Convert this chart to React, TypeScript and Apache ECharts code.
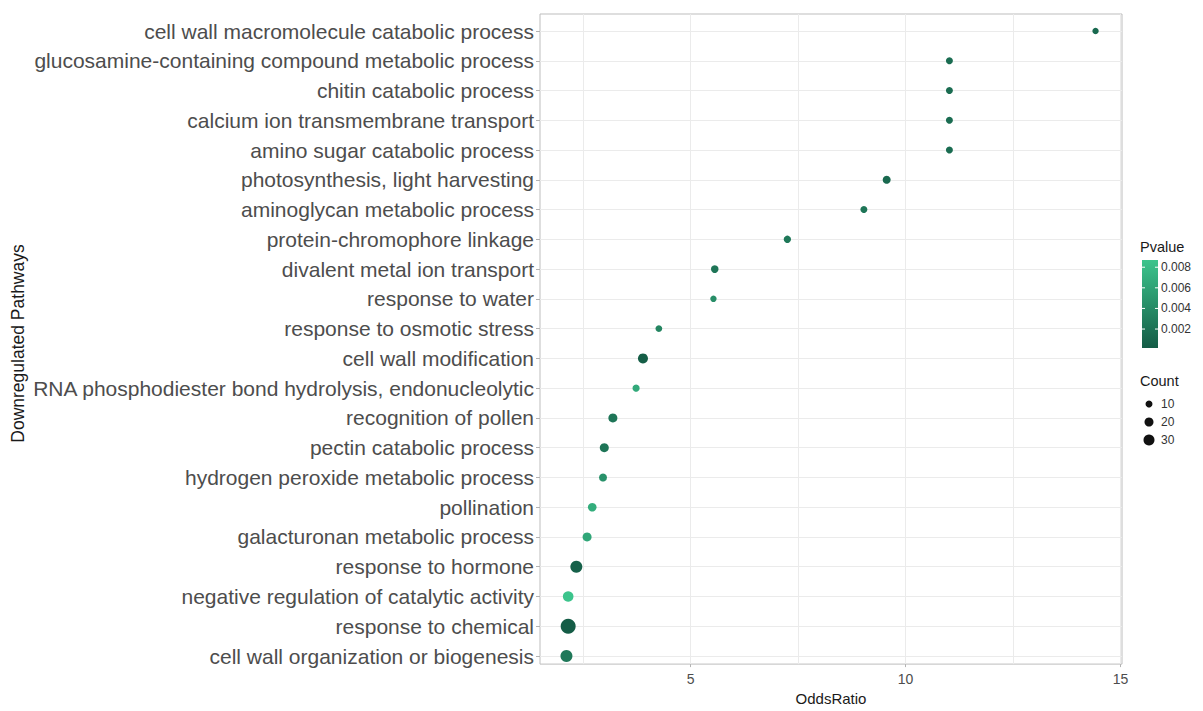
import React, { useEffect, useRef } from "react";
import * as echarts from "echarts";

// ---- data (top row first) ----
const pathways = [
  "cell wall macromolecule catabolic process",
  "glucosamine-containing compound metabolic process",
  "chitin catabolic process",
  "calcium ion transmembrane transport",
  "amino sugar catabolic process",
  "photosynthesis, light harvesting",
  "aminoglycan metabolic process",
  "protein-chromophore linkage",
  "divalent metal ion transport",
  "response to water",
  "response to osmotic stress",
  "cell wall modification",
  "RNA phosphodiester bond hydrolysis, endonucleolytic",
  "recognition of pollen",
  "pectin catabolic process",
  "hydrogen peroxide metabolic process",
  "pollination",
  "galacturonan metabolic process",
  "response to hormone",
  "negative regulation of catalytic activity",
  "response to chemical",
  "cell wall organization or biogenesis",
];
const oddsRatio = [
  14.42, 11.02, 11.02, 11.02, 11.02, 9.56, 9.03, 7.25, 5.56, 5.53, 4.26,
  3.89, 3.73, 3.19, 2.99, 2.96, 2.71, 2.59, 2.34, 2.15, 2.15, 2.11,
];
const pValues = [
  0.0012, 0.0015, 0.0015, 0.0015, 0.0015, 0.0012, 0.0022, 0.0025, 0.0022,
  0.0042, 0.0035, 0.0003, 0.0065, 0.0022, 0.0022, 0.0045, 0.0068, 0.0062,
  0.0006, 0.0087, 0.00016, 0.0025,
];
const counts = [
  7, 10, 10, 10, 10, 15, 10, 12, 13, 7, 9, 25, 11, 20, 20, 15, 18, 20, 35,
  28, 50, 35,
];
const xTicks = [5, 10, 15];
const xGridLines = [2.5, 5, 7.5, 10, 12.5, 15];
const pBreaks = [0.002, 0.004, 0.006, 0.008];
const countBreaks = [10, 20, 30];

const FONT = "'Liberation Sans', Arial, Helvetica, sans-serif";
const LOW = "#145c46";
const HIGH = "#3cc48c";
const sizeOf = (c: number) => 5 + 0.2 * c;

export default function App() {
  const ref = useRef<HTMLDivElement>(null);
  useEffect(() => {
    if (!ref.current) return;
    const chart = echarts.init(ref.current, null, { renderer: "svg" });

    const xLo = Math.min(...oddsRatio);
    const xHi = Math.max(...oddsRatio);
    const xMin = xLo - 0.05 * (xHi - xLo);
    const xMax = xHi + 0.05 * (xHi - xLo);
    const pMin = Math.min(...pValues);
    const pMax = Math.max(...pValues);

    const barX = 1142, barTop = 260, barBottom = 348, barW = 16;
    const yOfP = (p: number) =>
      barBottom - ((p - pMin) / (pMax - pMin)) * (barBottom - barTop);

    const graphic: any[] = [
      {
        type: "text",
        left: 1140,
        top: 239,
        style: { text: "Pvalue", fontSize: 14.5, fontFamily: FONT, fill: "#1a1a1a" },
      },
      {
        type: "rect",
        shape: { x: barX, y: barTop, width: barW, height: barBottom - barTop },
        style: {
          fill: new echarts.graphic.LinearGradient(0, 1, 0, 0, [
            { offset: 0, color: LOW },
            { offset: 1, color: HIGH },
          ]),
        },
      },
      {
        type: "text",
        left: 1140,
        top: 373,
        style: { text: "Count", fontSize: 14.5, fontFamily: FONT, fill: "#1a1a1a" },
      },
    ];
    pBreaks.forEach((b) => {
      const y = yOfP(b);
      graphic.push(
        { type: "line", shape: { x1: barX, y1: y, x2: barX + 3, y2: y }, style: { stroke: "#ffffff", lineWidth: 1 } },
        { type: "line", shape: { x1: barX + barW - 3, y1: y, x2: barX + barW, y2: y }, style: { stroke: "#ffffff", lineWidth: 1 } },
        {
          type: "text",
          x: 1161,
          y,
          style: { text: b.toFixed(3), fontSize: 12, fontFamily: FONT, fill: "#333333", verticalAlign: "middle" },
        }
      );
    });
    countBreaks.forEach((c, i) => {
      const cy = 404 + i * 18;
      graphic.push(
        { type: "circle", shape: { cx: 1149, cy, r: sizeOf(c) / 2 }, style: { fill: "#111111" } },
        {
          type: "text",
          x: 1161,
          y: cy,
          style: { text: String(c), fontSize: 12, fontFamily: FONT, fill: "#333333", verticalAlign: "middle" },
        }
      );
    });

    chart.setOption({
      animation: false,
      backgroundColor: "#ffffff",
      textStyle: { fontFamily: FONT },
      grid: [
        { left: 540, right: 81, top: 14, bottom: 34, show: true, borderColor: "#bdbdbd", borderWidth: 1, backgroundColor: "transparent" },
        { left: 540, right: 81, top: 31, bottom: 55 },
      ],
      xAxis: [
        {
          gridIndex: 0,
          type: "value",
          min: xMin,
          max: xMax,
          axisLine: { show: false },
          axisTick: { show: false, customValues: xGridLines },
          axisLabel: { show: false, customValues: xGridLines },
          splitLine: { show: true, lineStyle: { color: "#ebebeb", width: 1 } },
        },
        {
          gridIndex: 0,
          type: "value",
          position: "bottom",
          min: xMin,
          max: xMax,
          axisLine: { show: false },
          axisTick: { show: true, length: 3, customValues: xTicks, lineStyle: { color: "#b3b3b3" } },
          axisLabel: { customValues: xTicks, margin: 8, fontSize: 14, color: "#4d4d4d", fontFamily: FONT },
          splitLine: { show: false },
          name: "OddsRatio",
          nameLocation: "middle",
          nameGap: 22,
          nameTextStyle: { fontSize: 15, color: "#1a1a1a", fontFamily: FONT },
        },
        { gridIndex: 1, type: "value", min: xMin, max: xMax, show: false, splitLine: { show: false } },
      ],
      yAxis: [
        { gridIndex: 0, type: "value", min: 0, max: 1, show: false, splitLine: { show: false } },
        {
          gridIndex: 1,
          type: "category",
          data: pathways,
          inverse: true,
          boundaryGap: false,
          axisLine: { show: false },
          axisTick: { show: true, length: 4, lineStyle: { color: "#b3b3b3" } },
          axisLabel: { fontSize: 21, color: "#4d4d4d", margin: 6, fontFamily: FONT },
          splitLine: { show: true, lineStyle: { color: "#ebebeb", width: 1 } },
          name: "Downregulated Pathways",
          nameLocation: "middle",
          nameRotate: 90,
          nameGap: 513,
          nameTextStyle: { fontSize: 17.5, color: "#1a1a1a", fontFamily: FONT },
        },
      ],
      visualMap: {
        show: false,
        type: "continuous",
        dimension: 2,
        seriesIndex: 0,
        min: pMin,
        max: pMax,
        inRange: { color: [LOW, HIGH] },
      },
      series: [
        {
          type: "scatter",
          xAxisIndex: 2,
          yAxisIndex: 1,
          data: pathways.map((name, i) => [oddsRatio[i], name, pValues[i], counts[i]]),
          symbolSize: (v: any) => sizeOf(v[3]),
          itemStyle: { opacity: 1 },
        },
      ],
      graphic,
    });
    return () => chart.dispose();
  }, []);

  return (
    <div
      ref={ref}
      style={{ position: "absolute", left: 0, top: 0, width: 1203, height: 711, background: "#fff" }}
    />
  );
}
